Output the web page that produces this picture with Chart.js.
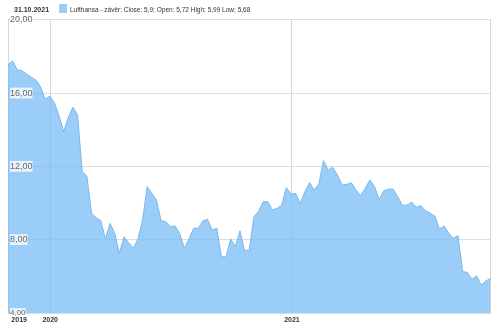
<!DOCTYPE html>
<html>
<head>
<meta charset="utf-8">
<script src="https://cdn.jsdelivr.net/npm/chart.js@4"></script>
<style>
  body { margin: 0; background: #fff; font-family: "Liberation Sans", Arial, sans-serif; }
  #wrap { position: relative; width: 500px; height: 328px; }
  #head { position: absolute; left: 0; top: 0; width: 500px; height: 18px; color: #333; }
  #date { position: absolute; left: 14px; top: 5px; font-size: 7px; font-weight: bold; line-height: 9px; }
  #box { position: absolute; left: 59px; top: 4px; width: 8px; height: 9px; background: #9acef8; }
  #legend { position: absolute; left: 70px; top: 5px; font-size: 6.5px; line-height: 9px; white-space: nowrap; }
</style>
</head>
<body>
<div id="wrap">
  <canvas id="chart" width="500" height="328"></canvas>
  <div id="head">
    <span id="date">31.10.2021</span>
    <span id="box"></span>
    <span id="legend">Lufthansa - závěr: Close: 5,9; Open: 5,72 High: 5,99 Low: 5,68</span>
  </div>
</div>
<script>
// Weekly closes, Oct 2019 - Oct 2021
const closes = [
  17.53, 17.75, 17.26, 17.22, 17.04, 16.86, 16.71, 16.35, 15.66, 15.84,
  15.47, 14.75, 13.89, 14.67, 15.22, 14.80, 11.71, 11.47, 9.44, 9.20,
  9.04, 8.02, 8.89, 8.35, 7.26, 8.16, 7.84, 7.53, 8.02, 9.07,
  10.89, 10.53, 10.16, 9.04, 8.98, 8.71, 8.75, 8.35, 7.53, 8.02,
  8.62, 8.62, 9.02, 9.11, 8.53, 8.62, 7.07, 7.07, 8.04, 7.62,
  8.49, 7.40, 7.44,
  9.25, 9.53, 10.07, 10.07, 9.62, 9.71, 9.89, 10.84, 10.49, 10.53,
  9.98, 10.62, 11.11, 10.71, 11.04, 12.31, 11.80, 11.95, 11.53, 10.98,
  11.02, 11.11, 10.71, 10.40, 10.80, 11.26, 10.89, 10.20, 10.67, 10.75,
  10.76, 10.35, 9.88, 9.88, 10.06, 9.77, 9.85, 9.58, 9.44, 9.29,
  8.58, 8.75, 8.35, 8.08, 8.22, 6.25, 6.22, 5.84, 6.02, 5.53,
  5.75, 5.89
];

// Year labels and the week index where each sits
const yearLabels = ["2019", "2020", "2021"];
const yearWeeks = [2.4, 9.1, 61.2];

const yTicks = [4, 8, 12, 16, 20];

const points = closes.map((v, i) => ({ x: i, y: v }));

new Chart(document.getElementById("chart"), {
  type: "line",
  data: {
    datasets: [{
      label: "Lufthansa",
      data: points,
      borderColor: "#7ab8ec",
      borderWidth: 1,
      backgroundColor: "rgba(120,190,245,0.75)",
      fill: "start",
      pointRadius: 0,
      tension: 0
    }]
  },
  options: {
    animation: false,
    responsive: false,
    layout: { padding: { left: 8, right: 9.5, top: 19.7, bottom: 0 } },
    plugins: { legend: { display: false }, tooltip: { enabled: false } },
    scales: {
      x: {
        type: "linear",
        min: 0,
        max: closes.length - 1,
        afterFit: s => { s.height = 15; },
        afterBuildTicks: s => { s.ticks = yearWeeks.map(w => ({ value: w })); },
        ticks: {
          autoSkip: false,
          maxRotation: 0,
          padding: 3,
          z: 2,
          color: "#333",
          font: { family: "Liberation Sans", size: 7, weight: "bold" },
          callback: (v, i) => yearLabels[i]
        },
        grid: {
          drawTicks: false,
          color: c => (c.index === 0 ? "rgba(0,0,0,0)" : "#d6d6d6"),
          lineWidth: 1
        },
        border: { display: false }
      },
      y: {
        min: 4,
        max: 20,
        afterFit: s => { s.width = 0; },
        afterBuildTicks: s => { s.ticks = yTicks.map(v => ({ value: v })); },
        ticks: {
          mirror: true,
          z: 1,
          padding: 2,
          color: "#666",
          // the bottom label is squeezed above the year row
          font: c => ({ family: "Liberation Sans", size: c.tick && c.tick.value === 4 ? 8 : 9 }),
          showLabelBackdrop: true,
          backdropColor: "rgba(255,255,255,0.8)",
          backdropPadding: c => (c.tick && c.tick.value === 4
            ? { left: 2, right: 2, top: 1, bottom: -1 }
            : { left: 2, right: 2, top: 1, bottom: 1 }),
          callback: v => v.toFixed(2).replace(".", ",")
        },
        grid: { drawTicks: false, color: "#dedede", lineWidth: 1 },
        border: { display: true, color: "#d6d6d6" }
      },
      y2: {
        position: "right",
        min: 4,
        max: 20,
        afterFit: s => { s.width = 0; },
        ticks: { display: false },
        grid: { display: false, drawTicks: false },
        border: { display: true, color: "#d6d6d6" }
      }
    }
  }
});
</script>
</body>
</html>
